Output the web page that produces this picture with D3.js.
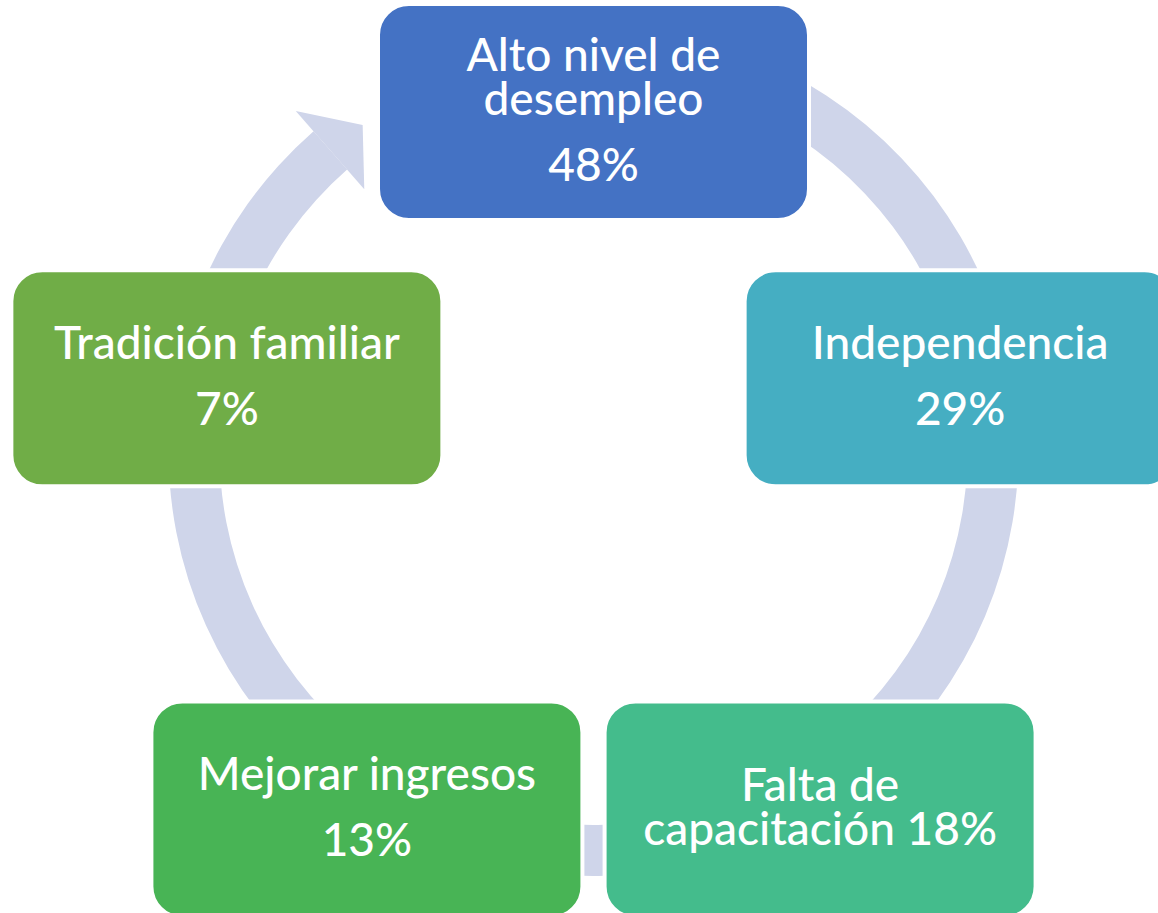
<!DOCTYPE html>
<meta charset="utf-8">
<style>
    body { margin: 0; background: #fff; }
    svg { display: block; }
    text { font-family: Lato, "Open Sans", sans-serif; fill: #fff; }
</style>
<svg width="1158" height="913"></svg>
<script src="https://d3js.org/d3.v7.min.js"></script>
<script>

    // node labels (one entry per wrapped line), values and colours, clockwise from the top
    var labels = [
        ["Alto nivel de", "desempleo"],
        ["Independencia"],
        ["Falta de", "capacitación"],
        ["Mejorar ingresos"],
        ["Tradición familiar"]
    ];
    var values = [48, 29, 18, 13, 7];
    var pctInline = [false, false, true, false, false]; // percent written on the last label line
    var colors = ["#4472C4", "#45AEC2", "#44BC8C", "#48B455", "#70AD47"];

    var svg = d3.select("svg");

    // layout of the cycle
    var cx = 593.5, cy = 497.5, R = 385.5,   // node centres
        ringCy = 451, rIn = 374, rOut = 425, // lavender ring
        boxW = 431, boxH = 216, corner = 31;

    var angle = d3.scaleLinear().domain([0, labels.length]).range([0, 2 * Math.PI]);
    var deg = function (d) { return d * Math.PI / 180; };

    var nodes = values.map(function (v, i) {
        var p = d3.pointRadial(angle(i), R);
        return { i: i, v: v, lines: labels[i], x: cx + p[0], y: cy + p[1] };
    });

    // ring with arrowhead pointing back to the first node
    var arrowBase = deg(318.8), arrowTip = deg(324.7);
    var ring = svg.append("g").attr("transform", "translate(" + cx + "," + ringCy + ")");
    ring.append("path")
        .attr("d", d3.arc().innerRadius(rIn).outerRadius(rOut).startAngle(0).endAngle(arrowBase)())
        .attr("fill", "#CFD5EA");
    ring.append("path")
        .attr("d", d3.line()([
            d3.pointRadial(arrowBase, rOut + 27),
            d3.pointRadial(arrowTip, (rIn + rOut) / 2),
            d3.pointRadial(arrowBase, rIn - 26)
        ]) + "Z")
        .attr("fill", "#CFD5EA");

    // boxes
    var g = svg.selectAll("g.node")
        .data(nodes)
        .enter().append("g")
        .attr("class", "node")
        .attr("transform", function (d) { return "translate(" + d.x + "," + d.y + ")"; });

    g.append("rect")
        .attr("x", -boxW / 2).attr("y", -boxH / 2)
        .attr("width", boxW).attr("height", boxH)
        .attr("rx", corner).attr("ry", corner)
        .attr("fill", function (d) { return colors[d.i]; })
        .attr("stroke", "#fff")
        .attr("stroke-width", 4);

    // text block, centred vertically in the box
    var fontSize = 46, capH = 33, lineGap = 44, paraGap = 66;
    g.each(function (d) {
        var rows = d.lines.slice();
        var gaps = [];
        for (var k = 1; k < rows.length; k++) gaps.push(lineGap);
        if (pctInline[d.i]) {
            rows[rows.length - 1] += " " + d.v + "%";
        } else {
            rows.push(d.v + "%");
            gaps.push(paraGap);
        }
        var total = capH + d3.sum(gaps);
        var y0 = -total / 2 + capH - 3;
        var t = d3.select(this).append("text")
            .attr("text-anchor", "middle")
            .attr("font-size", fontSize)
            .attr("font-weight", 500);
        var yy = y0;
        rows.forEach(function (r, k) {
            if (k > 0) yy += gaps[k - 1];
            t.append("tspan").attr("x", 0).attr("y", yy).text(r);
        });
    });

</script>
